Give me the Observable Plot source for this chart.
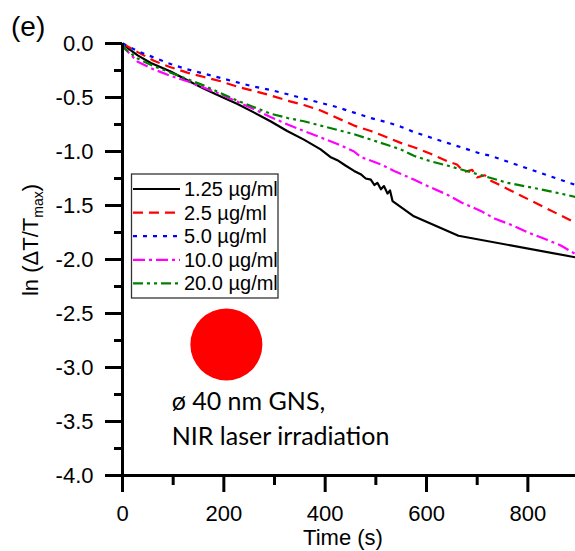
<!DOCTYPE html>
<html><head><meta charset="utf-8">
<script src="https://cdn.jsdelivr.net/npm/d3@7"></script>
<script src="https://cdn.jsdelivr.net/npm/@observablehq/plot@0.6"></script>
<style>body{margin:0;background:#fff} #chart{position:relative;width:575px;height:551px}</style>
</head><body><div id="chart"></div>
<script>
// ---- data ----
const seriesNames = ["1.25 µg/ml", "2.5 µg/ml", "5.0 µg/ml", "10.0 µg/ml", "20.0 µg/ml"];

const t125 = [0, 10, 30, 56, 95, 128, 161, 194, 227, 260, 292, 325, 358, 391, 410, 424, 440, 457, 470, 480, 490, 497, 503, 510, 516, 523, 528, 533, 575, 663, 894];
const v125 = [0, -0.04, -0.11, -0.18, -0.26, -0.34, -0.42, -0.49, -0.56, -0.64, -0.72, -0.81, -0.89, -0.98, -1.05, -1.08, -1.13, -1.18, -1.21, -1.25, -1.26, -1.31, -1.29, -1.35, -1.32, -1.39, -1.36, -1.46, -1.60, -1.78, -1.98];

const t25 = [0, 30, 62, 95, 128, 161, 194, 227, 260, 292, 326, 358, 391, 424, 457, 490, 523, 549, 575, 608, 641, 660, 674, 690, 700, 715, 727, 894];
const v25 = [0, -0.08, -0.16, -0.22, -0.27, -0.31, -0.35, -0.40, -0.44, -0.48, -0.53, -0.57, -0.62, -0.69, -0.76, -0.81, -0.87, -0.92, -0.96, -1.02, -1.09, -1.12, -1.19, -1.17, -1.24, -1.22, -1.27, -1.66];

const t50 = [0, 30, 62, 95, 128, 161, 194, 227, 260, 292, 326, 358, 391, 424, 457, 490, 523, 549, 575, 608, 641, 674, 707, 727, 894];
const v50 = [0, -0.07, -0.13, -0.19, -0.24, -0.28, -0.32, -0.36, -0.40, -0.43, -0.47, -0.51, -0.55, -0.59, -0.64, -0.69, -0.73, -0.77, -0.82, -0.87, -0.92, -0.97, -1.02, -1.04, -1.31];

const t100 = [0, 5, 30, 62, 95, 128, 161, 194, 227, 260, 292, 326, 358, 391, 424, 457, 470, 510, 536, 575, 602, 641, 668, 707, 734, 773, 800, 839, 865, 894];
const v100 = [0, -0.05, -0.17, -0.24, -0.30, -0.35, -0.41, -0.47, -0.54, -0.61, -0.68, -0.75, -0.81, -0.87, -0.93, -1.00, -1.05, -1.12, -1.18, -1.26, -1.32, -1.40, -1.47, -1.55, -1.62, -1.69, -1.75, -1.82, -1.87, -1.95];

const t200 = [0, 5, 30, 62, 95, 128, 161, 194, 227, 260, 292, 326, 358, 391, 424, 457, 490, 523, 549, 575, 608, 641, 693, 760, 825, 894];
const v200 = [0, -0.05, -0.14, -0.21, -0.27, -0.33, -0.39, -0.46, -0.53, -0.59, -0.65, -0.69, -0.72, -0.76, -0.80, -0.84, -0.89, -0.94, -0.98, -1.04, -1.09, -1.13, -1.20, -1.29, -1.35, -1.42];

const xMajor = [0, 200, 400, 600, 800];
const xMinor = [100, 300, 500, 700];
const yMajor = [0, -0.5, -1, -1.5, -2, -2.5, -3, -3.5, -4];
const yMinor = [-0.25, -0.75, -1.25, -1.75, -2.25, -2.75, -3.25, -3.75];

const circleT = [205];
const circleV = [-2.787];
const noteT = [97, 97];
const noteV = [-3.398, -3.713];
const noteText = ["ø 40 nm GNS,", "NIR laser irradiation"];

// ---- styles ----
const colors = ["#000000", "#ff0000", "#0000ff", "#ff00ff", "#008000"];
const dashes = [null, "10,6", "4,6", "12,4,3,4", "10,4,3,4,3,4"];

const tList = [t125, t25, t50, t100, t200];
const vList = [v125, v25, v50, v100, v200];

const lineMarks = tList.map((ts, k) =>
  Plot.line(ts.map((t, i) => ({t, v: vList[k][i]})), {
    x: "t", y: "v", stroke: colors[k], strokeWidth: 2.2,
    strokeDasharray: dashes[k] || undefined, strokeLinecap: "butt", strokeLinejoin: "round"
  })
);

const plot = Plot.plot({
  width: 575, height: 551,
  marginTop: 43, marginRight: 0, marginBottom: 76, marginLeft: 122,
  style: {fontFamily: "'Liberation Sans', Arial, sans-serif", fontSize: "22px", background: "#fff", color: "#000", overflow: "hidden"},
  x: {domain: [0, 894]},
  y: {domain: [-4, 0]},
  marks: [
    ...lineMarks,
    Plot.dot(circleT.map((t, i) => ({t, v: circleV[i]})), {x: "t", y: "v", r: 36, fill: "#ff0000", stroke: null}),
    Plot.text(noteT.map((t, i) => ({t, v: noteV[i], s: noteText[i]})), {
      x: "t", y: "v", text: "s", textAnchor: "start", lineAnchor: "bottom",
      fontFamily: "Lato, 'Open Sans', sans-serif", fontSize: 25, fill: "#000"
    }),
    Plot.axisX({ticks: xMajor, tickSize: 17, tickPadding: 13, strokeWidth: 3, tickFormat: d => String(d), label: null}),
    Plot.axisX({ticks: xMinor, tickSize: 10, strokeWidth: 3, tickFormat: () => "", label: null}),
    Plot.axisY({ticks: yMajor, tickSize: 17, tickPadding: 12, strokeWidth: 3, tickFormat: d => d.toFixed(1), label: null}),
    Plot.axisY({ticks: yMinor, tickSize: 8, strokeWidth: 3, tickFormat: () => "", label: null}),
    Plot.ruleX([0], {stroke: "#000", strokeWidth: 3}),
    Plot.ruleY([-4], {stroke: "#000", strokeWidth: 3})
  ]
});

document.getElementById("chart").appendChild(plot);

// ---- titles & legend ----
const svg = d3.select(plot);
const font = "'Liberation Sans', Arial, sans-serif";

svg.append("text").attr("x", 11).attr("y", 36).attr("text-anchor", "start").attr("font-family", font)
  .attr("font-size", 28).attr("fill", "#000").text("(e)");

svg.append("text").attr("x", 343).attr("y", 545).attr("text-anchor", "middle")
  .attr("font-family", font).attr("font-size", 22).attr("fill", "#000").text("Time (s)");

const yl = svg.append("text").attr("transform", "translate(38,240) rotate(-90)").attr("text-anchor", "middle")
  .attr("font-family", font).attr("font-size", 22).attr("fill", "#000");
yl.append("tspan").text("ln (ΔT/T");
yl.append("tspan").attr("font-size", 14).attr("dy", 5).text("max");
yl.append("tspan").attr("dy", -5).text(")");

const lg = svg.append("g");
lg.append("rect").attr("x", 131.5).attr("y", 174).attr("width", 146.5).attr("height", 124)
  .attr("fill", "#fff").attr("stroke", "#333").attr("stroke-width", 1.3);
seriesNames.forEach((name, k) => {
  const y = 189 + k * 23.6;
  lg.append("line").attr("x1", 133).attr("x2", 180).attr("y1", y).attr("y2", y)
    .attr("stroke", colors[k]).attr("stroke-width", 2.2)
    .attr("stroke-dasharray", dashes[k]);
  lg.append("text").attr("x", 184).attr("y", y + 7).attr("text-anchor", "start").attr("font-family", font)
    .attr("font-size", 20).attr("fill", "#000").text(name);
});
</script>
</body></html>
